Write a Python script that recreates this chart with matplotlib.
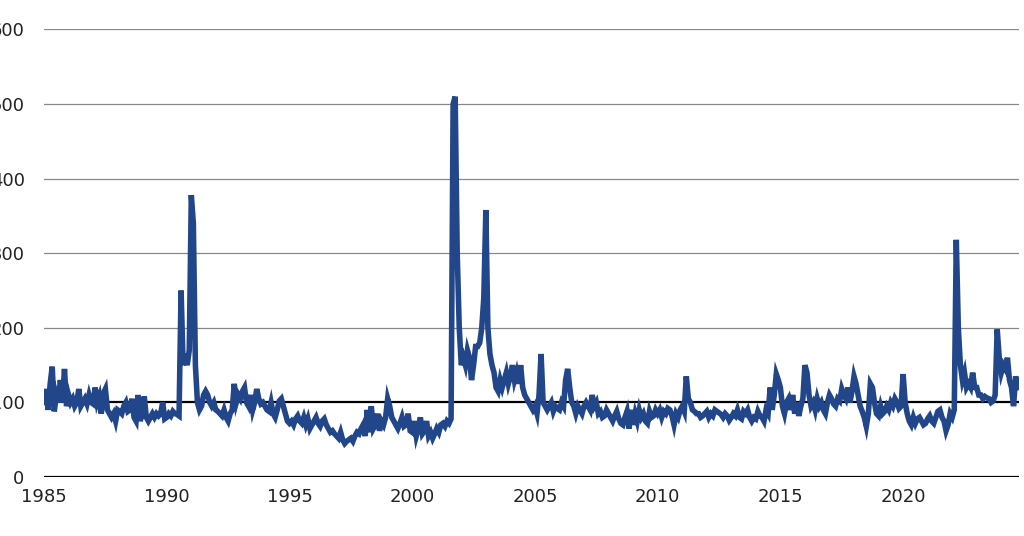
import numpy as np
import matplotlib
matplotlib.use("Agg")
import matplotlib.pyplot as plt

start_year = 1985
values = [
 100,118,90,125,148,88,110,100,130,100,145,95,
 110,100,105,95,100,118,95,100,105,98,110,100,
 98,120,100,108,85,112,118,90,85,80,85,75,
 90,88,85,95,100,88,90,105,80,75,110,75,
 85,108,80,75,80,85,80,85,82,85,100,78,
 80,85,82,88,85,84,82,250,150,165,150,170,
 378,340,150,100,90,95,110,115,110,100,95,100,
 90,88,85,82,90,80,75,85,90,125,100,110,
 105,115,120,100,95,110,90,100,118,105,98,100,
 95,90,88,100,85,80,90,102,105,95,85,75,
 72,75,70,78,82,75,72,80,70,78,65,70,
 75,80,72,68,75,78,70,65,60,62,58,55,
 52,60,50,45,48,50,52,48,55,60,58,65,
 70,55,90,60,95,65,70,85,62,75,70,80,
 105,95,80,75,70,65,72,80,68,70,85,62,
 60,75,55,65,80,58,62,75,55,60,52,58,
 65,60,70,72,68,75,72,78,500,510,300,200,
 150,160,150,170,160,130,150,175,175,180,200,240,
 358,200,165,150,140,120,115,130,120,130,140,125,
 135,150,130,140,125,150,120,110,105,100,95,90,
 95,85,110,165,100,95,90,95,100,88,95,92,
 90,100,95,130,145,120,100,95,85,95,90,85,
 95,100,95,90,110,95,100,85,88,80,82,90,
 85,80,75,82,88,78,72,70,80,88,65,90,
 70,85,75,90,80,85,75,72,88,80,82,90,
 85,90,80,88,85,92,90,82,70,85,80,90,
 95,88,135,105,100,90,88,85,85,80,82,85,
 88,80,85,82,90,88,86,84,80,85,82,76,
 80,85,82,90,80,78,88,85,90,80,75,80,
 78,88,82,80,75,90,85,120,90,110,138,130,
 120,95,85,100,105,90,110,85,100,82,95,105,
 150,140,110,95,100,90,105,95,100,90,85,100,
 110,105,98,95,105,102,118,110,105,120,100,115,
 135,125,110,95,88,80,68,85,125,120,100,85,
 82,95,85,88,95,90,100,95,105,100,92,95,
 138,100,85,75,70,80,72,78,80,75,70,72,
 78,82,75,72,80,88,90,80,75,62,70,85,
 80,90,318,200,150,130,140,120,125,120,140,120,
 120,110,110,105,108,106,105,100,102,110,198,160,
 140,150,145,160,130,120,95,135,120,
]
yticks = [0, 100, 200, 300, 400, 500, 600]
xticks = [1985, 1990, 1995, 2000, 2005, 2010, 2015, 2020]

x = start_year + np.arange(len(values)) / 12.0

plt.rcParams['font.family'] = ['Liberation Sans Narrow', 'DejaVu Sans']
fig = plt.figure(figsize=(10.24, 5.36), dpi=100)
ax = fig.add_axes([0.043, 0.11, 0.952, 0.835])
for t in yticks:
    if t in (0, 100):
        ax.axhline(t, color='black', lw=1.6, zorder=1)
    else:
        ax.axhline(t, color='#888888', lw=0.9, zorder=1)
ax.plot(x, values, color='#22468a', lw=4, zorder=3, solid_joinstyle='miter')
ax.set_xlim(1985, x[-1] + 0.05)
ax.set_ylim(0, 600)
ax.set_yticks(yticks)
ax.set_xticks(xticks)
for s in ax.spines.values():
    s.set_visible(False)
ax.tick_params(length=0, labelsize=13, colors='#222222')
ax.tick_params(axis='y', pad=14)
ax.tick_params(axis='x', pad=8)
fig.savefig('out.png', dpi=100)
